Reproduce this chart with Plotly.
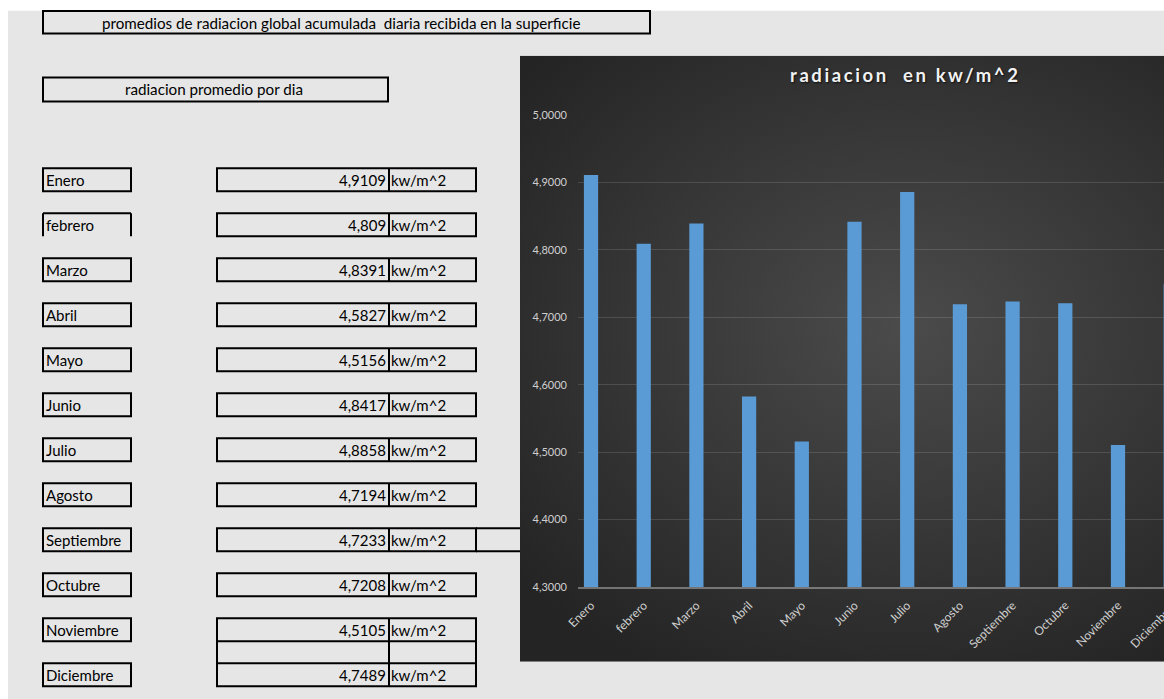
import base64
import plotly.graph_objects as go

# ---------------- data ----------------
months = ["Enero", "febrero", "Marzo", "Abril", "Mayo", "Junio", "Julio",
          "Agosto", "Septiembre", "Octubre", "Noviembre", "Diciembre"]
radiation = [4.9109, 4.809, 4.8391, 4.5827, 4.5156, 4.8417, 4.8858,
             4.7194, 4.7233, 4.7208, 4.5105, 4.7489]
unit_label = "kw/m^2"
sheet_title = "promedios de radiacion global acumulada\u00a0 diaria recibida en la superficie"
sub_title = "radiacion promedio por dia"
chart_title = "radiacion\u00a0 en kw/m^2"

# ---------------- geometry helpers (pixel -> paper) ----------------
W_FIG, H_FIG = 1164, 699
L, R, T, B = 578, 1164, 115, 587


def px(x):
    return (x - L) / (R - L)


def py(y):
    return (B - y) / (B - T)


FONT = "Lato"
LW = 2

fig = go.Figure()
fig.add_trace(go.Bar(
    x=months, y=radiation, width=0.27,
    marker=dict(color="#5b9bd5", line=dict(width=0)),
    hoverinfo="x+y",
))

shapes = []
annotations = []


def rect(x0, y0, x1, y1, lw=LW):
    shapes.append(dict(type="rect", xref="paper", yref="paper",
                       x0=px(x0), x1=px(x1), y0=py(y0), y1=py(y1),
                       line=dict(color="black", width=lw),
                       fillcolor="rgba(0,0,0,0)", layer="above"))


def line(x0, y0, x1, y1, lw=LW):
    shapes.append(dict(type="line", xref="paper", yref="paper",
                       x0=px(x0), x1=px(x1), y0=py(y0), y1=py(y1),
                       line=dict(color="black", width=lw), layer="above"))


def text(x, y, s, anchor="left", size=15, color="black", **kw):
    annotations.append(dict(xref="paper", yref="paper", x=px(x), y=py(y),
                            text=s, showarrow=False, xanchor=anchor, yanchor="middle",
                            font=dict(family=FONT, size=size, color=color, **kw)))


# white sheet margins (top & left)
shapes.append(dict(type="rect", xref="paper", yref="paper", x0=px(0), x1=px(W_FIG),
                   y0=py(0), y1=py(10.7), fillcolor="white", line=dict(width=0), layer="below"))
shapes.append(dict(type="rect", xref="paper", yref="paper", x0=px(0), x1=px(8),
                   y0=py(0), y1=py(H_FIG), fillcolor="white", line=dict(width=0), layer="below"))

# header boxes
rect(43, 11, 650, 33.5)
text(341, 22.5, sheet_title, anchor="center", size=15.2)
rect(43, 77.5, 388, 101.5)
text(214, 89.5, sub_title, anchor="center", size=15.2)

# table rows
for i, (m, v) in enumerate(zip(months, radiation)):
    top = 168.3 + 45 * i
    bot = top + 23
    mid = (top + bot) / 2
    # label cell
    if m == "febrero":
        line(43, top, 131, top)
        line(43, top, 43, bot)
        line(131, top, 131, bot)
    else:
        rect(43, top, 131, bot)
    text(44, mid + 0.5, m)
    # value + unit cells
    if m == "Noviembre":
        rect(217, top, 476, top + 68)
        line(389, top, 389, top + 68)
        line(217, bot, 476, bot)
        line(217, top + 45, 476, top + 45)
    elif m != "Diciembre":
        rect(217, top, 476, bot)
        line(389, top, 389, bot)
    if m == "Septiembre":
        line(476, top, 520, top)
        line(476, bot, 520, bot)
    text(388, mid + 0.5, str(v).replace(".", ","), anchor="right")
    text(389, mid + 0.5, unit_label, anchor="left")

# chart title (letter-spaced bold, with soft shadow)
annotations.append(dict(xref="paper", yref="paper", x=px(905), y=py(75),
                        text="<b><span style='letter-spacing:2.6px'>%s</span></b>" % chart_title,
                        showarrow=False, xanchor="center", yanchor="middle",
                        font=dict(family=FONT, size=18.5, color="#f2f2f2",
                                  shadow="1px 1px 2px rgba(0,0,0,0.7)")))

# Diciembre tick label (its tick lies just beyond the visible window)
annotations.append(dict(xref="paper", yref="paper", x=px(1151), y=py(626),
                        text=months[11], showarrow=False, textangle=-45,
                        xanchor="center", yanchor="middle",
                        font=dict(family=FONT, size=12, color="#cfcfcf")))

# chart background: radial gradient (Excel dark style)
svg = ("<svg xmlns='http://www.w3.org/2000/svg' width='770' height='606'>"
       "<defs><radialGradient id='g' cx='50%' cy='45%' r='65%'>"
       "<stop offset='0' stop-color='#4b4b4b'/><stop offset='1' stop-color='#242424'/>"
       "</radialGradient></defs><rect width='770' height='606' fill='url(#g)'/></svg>")
src = "data:image/svg+xml;base64," + base64.b64encode(svg.encode()).decode()
images = [dict(source=src, xref="paper", yref="paper", x=px(520), y=py(55.7),
               sizex=px(1290) - px(520), sizey=py(55.7) - py(661.7),
               xanchor="left", yanchor="top", sizing="stretch", layer="below")]

fig.update_layout(
    width=W_FIG, height=H_FIG, autosize=False,
    margin=dict(l=L, r=W_FIG - R, t=T, b=H_FIG - B, pad=0),
    paper_bgcolor="#e6e6e6", plot_bgcolor="rgba(0,0,0,0)",
    separators=",.",
    showlegend=False,
    shapes=shapes, annotations=annotations, images=images,
    xaxis=dict(type="category", range=[-0.247, 10.873], tickangle=-45,
               tickfont=dict(family=FONT, size=12, color="#cfcfcf"),
               showgrid=False, showline=True, linecolor="rgba(255,255,255,0.35)",
               linewidth=1.5, ticks="", zeroline=False, ticklabelstandoff=5),
    yaxis=dict(range=[4.3, 5.0], dtick=0.1, tick0=4.3, tickformat=".4f",
               tickfont=dict(family=FONT, size=11, color="#cfcfcf"),
               gridcolor="rgba(255,255,255,0.13)", gridwidth=1,
               showline=False, zeroline=False, ticks="", ticklabelstandoff=10),
)

fig.write_html("out.html")
